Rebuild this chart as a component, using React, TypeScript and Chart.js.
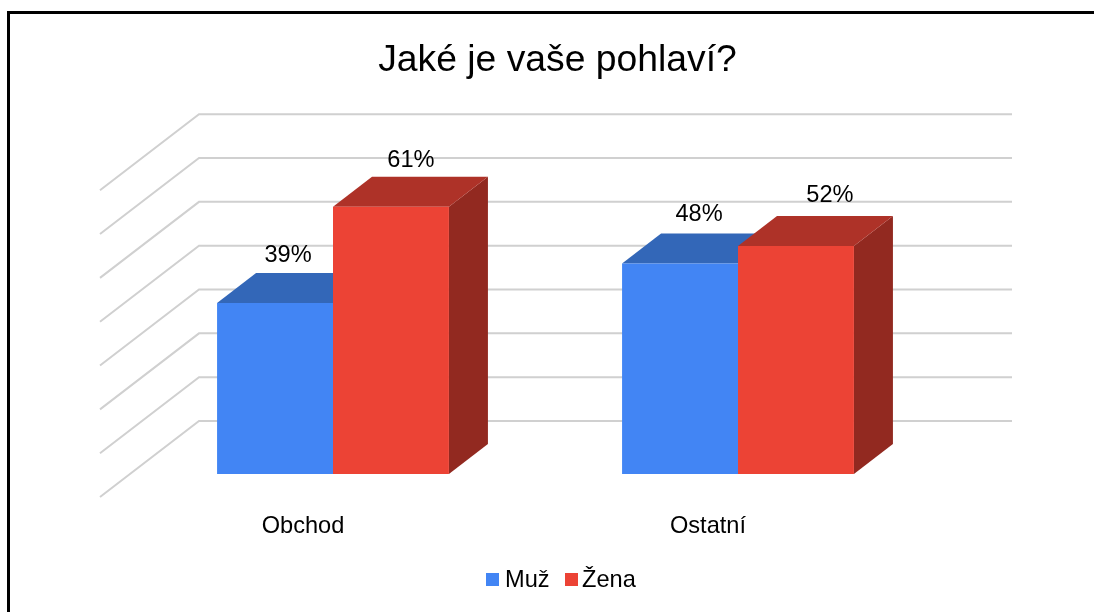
import React, { useEffect, useRef } from "react";
import { Chart, registerables } from "chart.js";

Chart.register(...registerables);

const categories = ["Obchod", "Ostatní"];
const muzValues = [39, 48];
const zenaValues = [61, 52];
const gridTicks = [0, 10, 20, 30, 40, 50, 60, 70];
const chartTitle = "Jaké je vaše pohlaví?";

const FONT = '"Liberation Sans", Arial, sans-serif';
const DEPTH_X = 39;
const DEPTH_Y = 30;
const GRID_BACK_OFFSET = -53;
const GRID_LEFT_X = 100;
const GRID_BACK_X = 199;
const GRID_RIGHT_X = 1012;
const GRID_SLANT = 76;
const LABEL_SHIFT = [
  [13, 19],
  [20, 34],
];
const LABEL_RISE = [
  [48, 49],
  [46, 51],
];
const FACE_COLORS = [
  { top: "#3367B8", side: "#2F5FA8" },
  { top: "#AE3228", side: "#922920" },
];
const LEGEND_ITEMS = [
  { boxX: 486, textX: 505 },
  { boxX: 565, textX: 582 },
];

const poly = (ctx: CanvasRenderingContext2D, pts: number[][], fill: string) => {
  ctx.beginPath();
  pts.forEach(([x, y], i) => (i ? ctx.lineTo(x, y) : ctx.moveTo(x, y)));
  ctx.closePath();
  ctx.fillStyle = fill;
  ctx.fill();
};

const scene3d = {
  id: "scene3d",
  beforeDatasetsDraw(chart: any) {
    const { ctx } = chart;
    const y = chart.scales.y;
    ctx.save();
    ctx.fillStyle = "#000";
    ctx.fillRect(7, 11, 3, 601);
    ctx.fillRect(7, 11, 1087, 3);
    ctx.strokeStyle = "#D0D0D0";
    ctx.lineWidth = 2;
    ctx.lineJoin = "miter";
    gridTicks.forEach((t) => {
      const py = y.getPixelForValue(t) + GRID_BACK_OFFSET;
      ctx.beginPath();
      ctx.moveTo(GRID_LEFT_X, py + GRID_SLANT);
      ctx.lineTo(GRID_BACK_X, py);
      ctx.lineTo(GRID_RIGHT_X, py);
      ctx.stroke();
    });
    ctx.restore();

    // Draw the series in order, so Žena overlaps Muž as in a 3D column chart.
    chart.data.datasets.forEach((_: any, di: number) => {
      const meta = chart.getDatasetMeta(di);
      const colors = FACE_COLORS[di];
      ctx.save();
      meta.data.forEach((bar: any) => {
        const { x, y: top, base, width } = bar.getProps(["x", "y", "base", "width"], true);
        const l = x - width / 2;
        const r = x + width / 2;
        poly(ctx, [[r, top], [r + DEPTH_X, top - DEPTH_Y], [r + DEPTH_X, base - DEPTH_Y], [r, base]], colors.side);
        poly(ctx, [[l, top], [l + DEPTH_X, top - DEPTH_Y], [r + DEPTH_X, top - DEPTH_Y], [r, top]], colors.top);
      });
      ctx.restore();
      meta.controller.draw();
    });
    return false;
  },
  afterDraw(chart: any) {
    const { ctx } = chart;
    ctx.save();
    ctx.font = `23.6px ${FONT}`;
    ctx.fillStyle = "#000";
    ctx.textAlign = "center";
    ctx.textBaseline = "middle";
    chart.data.datasets.forEach((ds: any, di: number) => {
      chart.getDatasetMeta(di).data.forEach((bar: any, i: number) => {
        const { x, y } = bar.getProps(["x", "y"], true);
        ctx.fillText(`${ds.data[i]}%`, x + LABEL_SHIFT[di][i], y - LABEL_RISE[di][i]);
      });
    });
    ctx.textAlign = "left";
    chart.data.datasets.forEach((ds: any, di: number) => {
      const item = LEGEND_ITEMS[di];
      ctx.fillStyle = ds.backgroundColor;
      ctx.fillRect(item.boxX, 573, 13, 13);
      ctx.fillStyle = "#000";
      ctx.fillText(ds.label, item.textX, 580.5);
    });
    ctx.restore();
  },
  beforeDraw(chart: any) {
    const block = chart.titleBlock;
    if (block && !block._shifted) {
      block.left += 22;
      block.right += 22;
      block._shifted = true;
    }
  },
};

export default function App() {
  const ref = useRef<HTMLCanvasElement>(null);
  useEffect(() => {
    document.body.style.margin = "0";
    document.body.style.background = "#fff";
    const chart = new Chart(ref.current!, {
      type: "bar",
      data: {
        labels: categories,
        datasets: [
          { label: "Muž", data: muzValues, backgroundColor: "#4285F4" },
          { label: "Žena", data: zenaValues, backgroundColor: "#EC4335" },
        ],
      },
      options: {
        responsive: false,
        animation: false,
        layout: { padding: { left: 130.5, right: 153.5, top: 0, bottom: 0 } },
        datasets: { bar: { categoryPercentage: 0.5725, barPercentage: 1, borderWidth: 0 } },
        plugins: {
          legend: { display: false },
          tooltip: { enabled: false },
          title: {
            display: true,
            text: chartTitle,
            color: "#000",
            font: { family: FONT, size: 37.3, weight: "normal" },
            padding: { top: 38, bottom: 40.6 },
          },
        },
        scales: {
          x: {
            grid: { display: false, drawTicks: false },
            border: { display: false },
            ticks: {
              color: "#000",
              font: { family: FONT, size: 23.6 },
              padding: 38,
              labelOffset: -30,
              maxRotation: 0,
            },
            afterFit: (s: any) => {
              s.height = 138;
            },
          },
          y: {
            display: false,
            min: 0,
            max: 80,
          },
        },
      },
      plugins: [scene3d],
    } as any);
    return () => chart.destroy();
  }, []);
  return (
    <div style={{ width: 1094, height: 612 }}>
      <canvas ref={ref} width={1094} height={612} style={{ display: "block" }} />
    </div>
  );
}
